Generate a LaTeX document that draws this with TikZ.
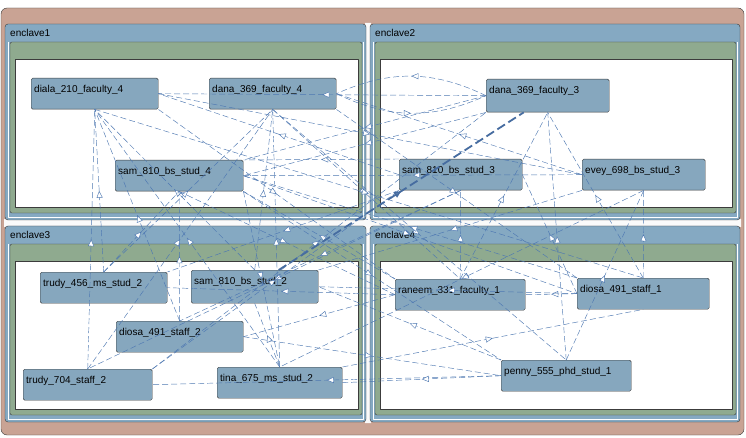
\documentclass[tikz,border=0pt]{standalone}
\usepackage{fontspec}
\setmainfont{Liberation Sans}
\usetikzlibrary{arrows.meta,decorations.markings}
\definecolor{shellbrown}{RGB}{201,163,148}
\definecolor{enclblue}{RGB}{133,169,194}
\definecolor{panegreen}{RGB}{143,170,143}
\definecolor{unitblue}{RGB}{134,167,190}
\definecolor{linkblue}{RGB}{78,120,178}
\definecolor{edgegray}{RGB}{60,60,60}
\begin{document}
\begin{tikzpicture}[x=1pt, y=-1pt, font=\fontsize{10}{12}\selectfont, line join=round,
  unit/.style={draw=edgegray, fill=unitblue, rounded corners=1.5pt, anchor=north west,
    inner xsep=3pt, inner ysep=2pt, text height=12pt, text depth=15pt, align=left, text width=#1},
  unit/.default=121pt,
  link/.style={draw=linkblue, dash pattern=on 6pt off 3pt, line width=0.45pt, postaction={decorate},
    decoration={markings, mark=at position 0.5 with {\arrow{Triangle[fill=white, length=7pt, width=6pt]}}}}]
	\useasboundingbox (0,0) rectangle (746,438);
	\draw[edgegray, fill=shellbrown, rounded corners=6pt] (1,8) rectangle (744,435);
	\fill[white!96!gray] (365,23) rectangle (371,423) (4,219) rectangle (741,227);
	% enclaves
	\foreach \x/\y/\w/\name in {5/24/361/enclave1, 370/24/370/enclave2, 5/226/361/enclave3, 370/226/370/enclave4}{
		\draw[edgegray, fill=enclblue, rounded corners=3pt] (\x,\y) rectangle ++(\w,196);
		\node[anchor=base west, inner sep=0pt] (\name) at (\x+5,\y+13) {\name};
		\draw[white, line width=0.8pt] (\x+3,\y+18) -- (\x+3,\y+193) -- (\x+\w-3,\y+193) -- (\x+\w-3,\y+18);
		\draw[edgegray, fill=panegreen, rounded corners=2pt] (\x+5,\y+18) rectangle (\x+\w-4,\y+189);
		\draw[edgegray, fill=white] (\x+10,\y+35) rectangle (\x+\w-8,\y+183);
	}
	% units
	\node[unit] (diala4) at (31,78) {diala\_210\_faculty\_4};
	\node[unit] (dana4) at (209,78) {dana\_369\_faculty\_4};
	\node[unit=122pt] (sam4) at (115,160) {sam\_810\_bs\_stud\_4};
	\node[unit=117pt, text depth=17pt] (dana3) at (486,79) {dana\_369\_faculty\_3};
	\node[unit=117pt] (sam3) at (399,159) {sam\_810\_bs\_stud\_3};
	\node[unit=117pt] (evey3) at (582,159) {evey\_698\_bs\_stud\_3};
	\node[unit] (trudy456) at (40,272) {trudy\_456\_ms\_stud\_2};
	\node[unit, text depth=17pt] (sam2) at (191,270) {sam\_810\_bs\_stud\_2};
	\node[unit] (diosa2) at (116,321) {diosa\_491\_staff\_2};
	\node[unit=123pt] (trudy704) at (23,369) {trudy\_704\_staff\_2};
	\node[unit=119pt] (tina2) at (217,367) {tina\_675\_ms\_stud\_2};
	\node[unit=124pt] (raneem1) at (395,279) {raneem\_331\_faculty\_1};
	\node[unit=126pt] (diosa1) at (577,278) {diosa\_491\_staff\_1};
	\node[unit=124pt] (penny1) at (501,360) {penny\_555\_phd\_stud\_1};
	% links
	\foreach \a/\b in {trudy456.north/diala4.south, trudy704.north/diala4.south, sam2.north/diala4.south,
		diosa2.north/diala4.south, tina2.north/diala4.south, trudy456.north/dana4.south, sam2.north/dana4.south,
		trudy704.north/dana4.south, tina2.north/dana4.south, diosa2.north/sam4.south, trudy456.north/sam4.south,
		tina2.north/sam2.south, dana3.west/diala4.east, sam3.west/diala4.east, sam3.north west/sam4.north east,
		evey3.west/dana4.east, evey3.west/sam4.east, raneem1.north/sam3.south, raneem1.north/dana3.south,
		diosa1.north/dana3.south, diosa1.north/evey3.south, penny1.north/evey3.south, penny1.north/dana3.south,
		evey3.south/tina2.north, tina2.north east/diosa1.south, diosa1.west/sam3.east, raneem1.west/trudy456.east,
		raneem1.west/diosa2.east, diosa1.west/raneem1.east, diosa1.west/sam2.east, penny1.west/trudy704.east,
		penny1.west/tina2.east, penny1.north west/sam2.east, diosa2.east/penny1.west, dana4.south/raneem1.north,
		dana4.south east/diosa1.north west, dana4.south/penny1.north, diala4.south east/raneem1.north west,
		diala4.east/evey3.west, sam4.east/diosa1.west, sam4.south/raneem1.west, sam3.south/trudy704.north,
		sam3.south/diosa2.north, sam3.south west/trudy456.north east, dana3.south west/sam4.east,
		evey3.south west/sam2.north east, sam4.south east/penny1.north west, diala4.south/diosa1.north,
		trudy704.north east/sam3.south west, dana3.west/sam4.north east, sam4.south east/tina2.north,
		raneem1.north west/sam4.south east, diosa1.north west/sam4.east, trudy704.north east/dana3.south west}
		\draw[link] (\a) -- (\b);
	\draw[link] (dana3.west) to[bend right=25] (dana4.east);
	\draw[link] (dana4.east) to[bend right=25] (dana3.west);
	\draw[link, line width=1.8pt, dash pattern=on 9pt off 4pt, draw=linkblue!90!black]
		([xshift=24pt]sam2.north) -- ([xshift=-24pt]dana3.south);
\end{tikzpicture}
\end{document}
